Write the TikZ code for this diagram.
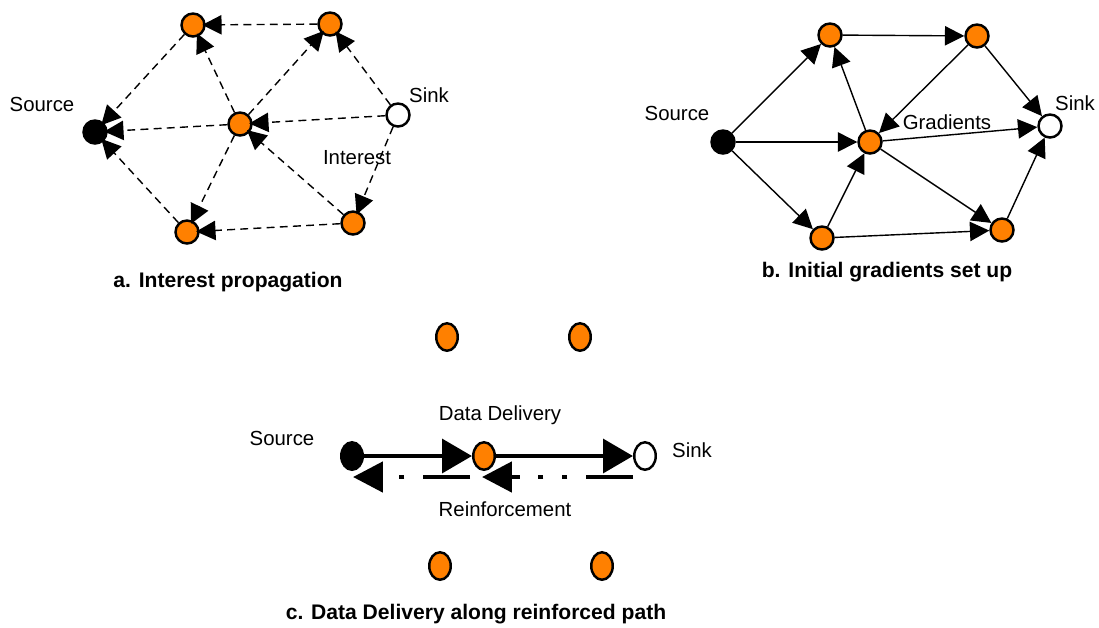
\documentclass[tikz,border=0pt]{standalone}
\usepackage{fontspec}
\setmainfont{Liberation Sans}
\usetikzlibrary{positioning,arrows.meta,calc,shapes.geometric}
\definecolor{nodeorange}{RGB}{255,128,0}

\begin{document}
\begin{tikzpicture}[x=0.02cm, y=-0.02cm, font=\fontsize{11.6}{13}\selectfont,
  sensor/.style={circle, draw, line width=1.4pt, minimum size=0.46cm, inner sep=0pt, fill=nodeorange},
  src/.style={sensor, fill=black},
  snk/.style={sensor, fill=white},
  esensor/.style={ellipse, draw, line width=1.4pt, minimum width=0.43cm, minimum height=0.55cm, inner sep=0pt, fill=nodeorange},
  esrc/.style={esensor, fill=black},
  esnk/.style={esensor, fill=white},
  ttl/.style={font=\fontsize{12}{14}\selectfont\bfseries},
  arr/.style={-{Triangle[length=11pt,width=11pt]}, line width=0.8pt},
  intr/.style={arr, dash pattern=on 4.5pt off 3pt, shorten >=-2pt},
  thk/.style={-{Triangle[length=17pt,width=19pt]}, line width=2.8pt},
  rnf/.style={-{Triangle[length=17pt,width=17pt]}, line width=2.8pt,
    dash pattern=on 26.6pt off 10.8pt on 2.8pt off 10.8pt on 2.8pt off 10.8pt}]
\useasboundingbox (0,0) rectangle (1099,627);
% a. interest propagation
\node[src] (srcA) at (95,132) {};
\node[snk] (sinkA) at (398,115) {};
\node[sensor] (tlA) at (193,25) {};
\node[sensor] (trA) at (330,24) {};
\node[sensor] (cA) at (240,124) {};
\node[sensor] (blA) at (187,232) {};
\node[sensor] (brA) at (353,223) {};
\foreach \a/\b in {trA/tlA, cA/tlA, cA/trA, sinkA/trA, sinkA/cA, sinkA/brA, tlA/srcA, cA/srcA, blA/srcA, cA/blA, brA/cA, brA/blA} \draw[intr] (\a) -- (\b);
\node (srcLblA) at (42,104) {Source};
\node (sinkLblA) at (429,95) {Sink};
\node (intLbl) at (357,158) {Interest};
\node[ttl] (ttlA) at (228,282) {a. Interest propagation};
% b. initial gradients
\node[src] (srcB) at (723,142) {};
\node[snk] (sinkB) at (1050,126) {};
\node[sensor] (tlB) at (830,35) {};
\node[sensor] (trB) at (977,36) {};
\node[sensor] (cB) at (870,142) {};
\node[sensor] (blB) at (822,238) {};
\node[sensor] (brB) at (1002,230) {};
\foreach \a/\b in {srcB/tlB, srcB/cB, srcB/blB, tlB/trB, cB/tlB, trB/cB, trB/sinkB, cB/sinkB, blB/cB, cB/brB, blB/brB, brB/sinkB} \draw[arr] (\a) -- (\b);
\node (srcLblB) at (677,113) {Source};
\node (sinkLblB) at (1075,103) {Sink};
\node (gradLbl) at (947,122) {Gradients};
\node[ttl] (ttlB) at (887,272) {b. Initial gradients set up};
% c. reinforced path
\node[esensor] (ulC) at (447,337) {};
\node[esensor] (urC) at (580,337) {};
\node[esrc] (srcC) at (352,456) {};
\node[esensor] (midC) at (484,456) {};
\node[esnk] (sinkC) at (645,456) {};
\node[esensor] (llC) at (440,566) {};
\node[esensor] (lrC) at (602,566) {};
\draw[thk] (srcC) -- (midC);
\draw[thk] (midC) -- (sinkC);
\draw[rnf] ($(midC)+(-14,21)$) -- ($(srcC)+(1,21)$);
\draw[rnf] ($(sinkC)+(-12,21)$) -- ($(midC)+(-2,21)$);
\node (srcLblC) at (282,438) {Source};
\node (sinkLblC) at (692,450) {Sink};
\node (ddLbl) at (500,415) {Data Delivery};
\node (rfLbl) at (505,509) {Reinforcement};
\node[ttl] (ttlC) at (476,614) {c. Data Delivery along reinforced path};
\end{tikzpicture}
\end{document}
